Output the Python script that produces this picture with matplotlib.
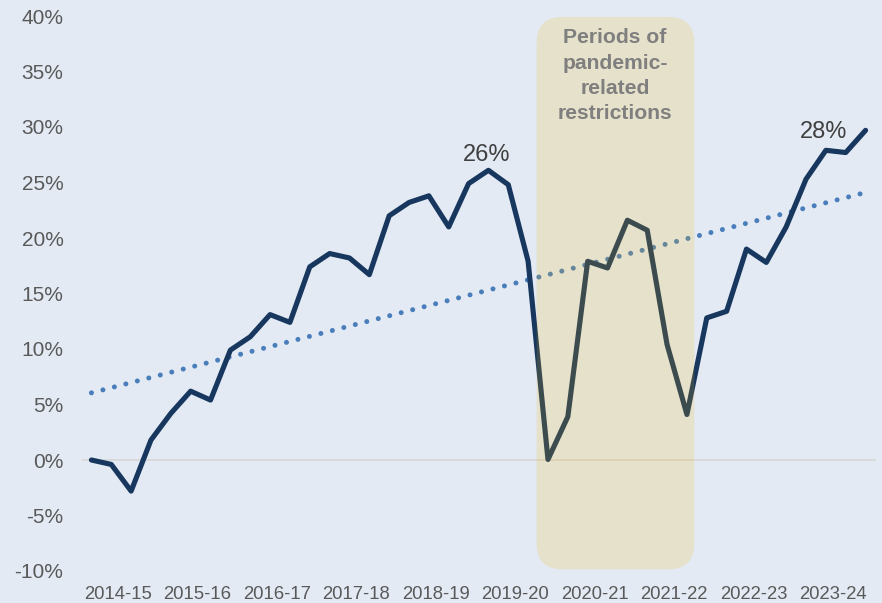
import matplotlib
matplotlib.use("Agg")
import matplotlib.pyplot as plt
from matplotlib.patches import FancyBboxPatch
from matplotlib.transforms import IdentityTransform
import numpy as np

# ---- data ----
years = ["2014-15", "2015-16", "2016-17", "2017-18", "2018-19",
         "2019-20", "2020-21", "2021-22", "2022-23", "2023-24"]
growth = [0.0, -0.4, -2.8, 1.8, 4.2, 6.2, 5.4, 9.9,
          11.1, 13.1, 12.4, 17.4, 18.6, 18.2, 16.7, 22.0,
          23.2, 23.8, 21.0, 24.9, 26.1, 24.8, 17.9, 0.05,
          3.9, 17.9, 17.3, 21.6, 20.7, 10.4, 4.1, 12.8,
          13.4, 19.0, 17.8, 21.0, 25.3, 27.9, 27.7, 29.7]
trend_start, trend_end = 6.05, 24.1
label_idx = [20, 37]
label_txt = ["26%", "28%"]
box_text = "Periods of\npandemic-\nrelated\nrestrictions"
yticks = [-10, -5, 0, 5, 10, 15, 20, 25, 30, 35, 40]

# ---- style ----
BG = "#E3EAF4"
NAVY = "#17375E"
TREND = "#4A7EBB"
FONT = ["Liberation Sans", "DejaVu Sans"]
label_offsets = [(-1.5, 11), (-1.5, 13)]

fig = plt.figure(figsize=(8.82, 6.03), dpi=100, facecolor=BG)
ax = fig.add_axes([81.5 / 882, 1 - 571 / 603, 794 / 882, 555 / 603])
ax.set_facecolor(BG)

n = len(growth)
x = np.arange(n)
ax.set_xlim(-0.5, n - 0.5)
ax.set_ylim(-10, 40)

ax.axhline(0, color="#D6D6D6", lw=1.2, zorder=1)

ax.plot([0, n - 1], [trend_start, trend_end], color=TREND, lw=3.6,
        linestyle=(0, (0.01, 2.36)), dash_capstyle="round", zorder=2)
ax.plot(x, growth, color=NAVY, lw=3.7, solid_joinstyle="round",
        solid_capstyle="round", zorder=3)

for i, t, off in zip(label_idx, label_txt, label_offsets):
    ax.annotate(t, (i, growth[i]), xytext=off, textcoords="offset points",
                ha="center", va="center", fontsize=17, color="#404040",
                family=FONT)

# year tick labels centred under each year (4 quarters)
ax.set_xticks([4 * k + 1.35 for k in range(len(years))])
ax.set_xticklabels(years)
ax.set_yticks(yticks)
ax.set_yticklabels([f"{v}%" for v in yticks])
ax.tick_params(axis="x", length=0, pad=11, labelsize=13.3, labelcolor="#595959")
ax.tick_params(axis="y", length=0, pad=13, labelsize=15, labelcolor="#595959")
for lab in ax.get_xticklabels() + ax.get_yticklabels():
    lab.set_family(FONT)
for s in ax.spines.values():
    s.set_visible(False)

# shaded pandemic box (rounded, drawn in pixel space)
fig.canvas.draw()
(x0, y0) = ax.transData.transform((22.43, -9.85))
(x1, y1) = ax.transData.transform((30.37, 39.92))
box = FancyBboxPatch((x0, y0), x1 - x0, y1 - y0,
                     boxstyle="round,pad=0,rounding_size=26",
                     transform=IdentityTransform(),
                     facecolor=(244 / 255, 181 / 255, 0), alpha=0.17,
                     edgecolor="none", zorder=4)
ax.add_patch(box)
ax.text(26.38, 34.6, box_text, ha="center", va="center", fontsize=15.2,
        fontweight="bold", color="#7F7F7F", linespacing=1.42,
        family=FONT, zorder=5)

fig.savefig("out.png", dpi=100, facecolor=BG)
